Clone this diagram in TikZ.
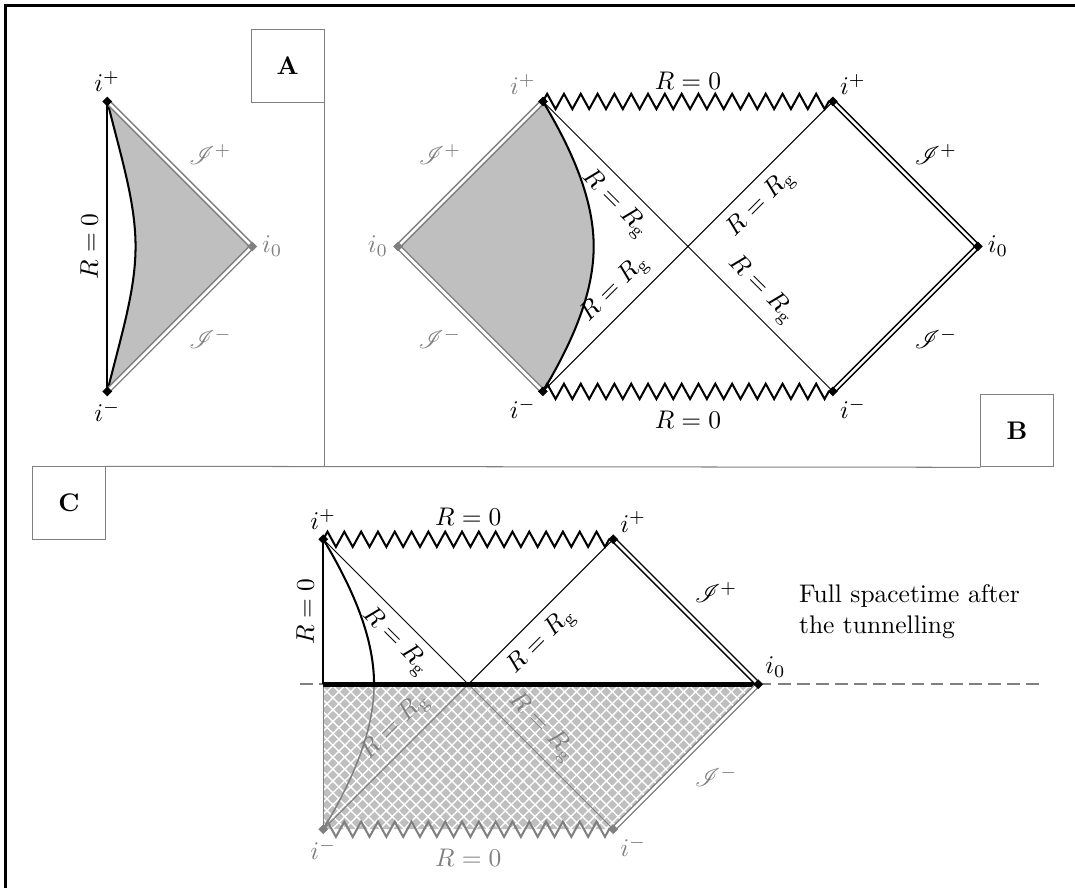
\documentclass[tikz,border=0pt]{standalone}
\usepackage{amsmath}
\usepackage{mathrsfs}
\usetikzlibrary{shapes.geometric,decorations.pathmorphing,patterns.meta,calc}

\begin{document}
\begin{tikzpicture}[
        vtx/.style={diamond, fill=black, inner sep=0pt, minimum size=4pt},
        gvtx/.style={vtx, fill=gray},
        scri/.style={double, double distance=1pt, line width=0.6pt},
        sing/.style={line width=0.8pt, decorate, decoration={zigzag, segment length=6.6pt, amplitude=3pt}},
        panel/.style={draw=gray, minimum size=1cm, inner sep=0pt, font=\bfseries},
        every label/.style={inner sep=1.5pt}]

        \useasboundingbox (0,0) rectangle (14.83,12.25);
        \draw[line width=1.2pt] (0.08,0) -- (0.08,12.18) -- (14.83,12.18);

        % Panels
        \node[panel] (boxA) at (3.97,11.34) {A};
        \node[panel] (boxB) at (14.03,6.31) {B};
        \node[panel] (boxC) at (0.95,5.31) {C};
        \draw[gray] (boxA.south east) -- (boxA.south east |- boxB.south west);
        \draw[gray] (boxC.north east) -- (boxB.south west);

        % Panel A
        \coordinate (ipA) at (1.48,10.85);
        \coordinate (imA) at (1.48,6.85);
        \coordinate (ioA) at (3.48,8.85);
        \fill[gray!50] (ipA) .. controls (1.68,10.05) and (1.87,9.45) .. (1.87,8.85) .. controls (1.87,8.25) and (1.68,7.65) .. (imA) -- (ioA) -- cycle;
        \draw[thick] (ipA) .. controls (1.68,10.05) and (1.87,9.45) .. (1.87,8.85) .. controls (1.87,8.25) and (1.68,7.65) .. (imA);
        \draw[thick] (imA) -- node[sloped, above] {$R=0$} (ipA);
        \draw[scri, gray] (ipA) -- node[above right, gray] {$\mathscr{I}^+$} (ioA) -- node[below right, gray] {$\mathscr{I}^-$} (imA);
        \node[vtx, label=above:$i^+$] (vipA) at (ipA) {};
        \node[vtx, label=below:$i^-$] (vimA) at (imA) {};
        \node[gvtx, label={[gray]right:$i_0$}] (vioA) at (ioA) {};

        % Panel B
        \coordinate (ioBl) at (5.49,8.85);
        \coordinate (ipBl) at (7.49,10.85);
        \coordinate (imBl) at (7.49,6.85);
        \coordinate (ipBr) at (11.49,10.85);
        \coordinate (imBr) at (11.49,6.85);
        \coordinate (ioBr) at (13.49,8.85);
        \fill[gray!50] (ipBl) .. controls (7.94,10.1) and (8.19,9.45) .. (8.19,8.85) .. controls (8.19,8.25) and (7.94,7.6) .. (imBl) -- (ioBl) -- cycle;
        \draw[thick] (ipBl) .. controls (7.94,10.1) and (8.19,9.45) .. (8.19,8.85) .. controls (8.19,8.25) and (7.94,7.6) .. (imBl);
        \draw[thin] (ipBl) -- node[pos=0.3, sloped, below] {$R=R_{\mathrm{g}}$} node[pos=0.7, sloped, above] {$R=R_{\mathrm{g}}$} (imBr);
        \draw[thin] (imBl) -- node[pos=0.3, sloped, above] {$R=R_{\mathrm{g}}$} node[pos=0.7, sloped, below] {$R=R_{\mathrm{g}}$} (ipBr);
        \draw[sing] (ipBl) -- node[above=1pt] {$R=0$} (ipBr);
        \draw[sing] (imBl) -- node[below=4pt] {$R=0$} (imBr);
        \draw[scri, gray] (ipBl) -- node[above left, gray] {$\mathscr{I}^+$} (ioBl) -- node[below left, gray] {$\mathscr{I}^-$} (imBl);
        \draw[scri] (ipBr) -- node[above right] {$\mathscr{I}^+$} (ioBr) -- node[below right] {$\mathscr{I}^-$} (imBr);
        \node[vtx, label={[gray]above left:$i^+$}] (vipBl) at (ipBl) {};
        \node[vtx, label=below left:$i^-$] (vimBl) at (imBl) {};
        \node[gvtx, label={[gray]left:$i_0$}] (vioBl) at (ioBl) {};
        \node[vtx, label=above right:$i^+$] (vipBr) at (ipBr) {};
        \node[vtx, label=below right:$i^-$] (vimBr) at (imBr) {};
        \node[vtx, label=right:$i_0$] (vioBr) at (ioBr) {};

        % Panel C
        \coordinate (ipCl) at (4.46,4.81);
        \coordinate (ipCr) at (8.46,4.81);
        \coordinate (ioC) at (10.46,2.81);
        \coordinate (imCl) at (4.46,0.81);
        \coordinate (imCr) at (8.46,0.81);
        \coordinate (mC) at (6.46,2.81);
        \coordinate (bC) at (4.46,2.81);
        \coordinate (tC) at (5.16,2.81);
        \coordinate (dl) at (4.14,2.81);
        \coordinate (dr) at (14.34,2.81);
        \path[fill=gray!50,
            postaction={pattern={Lines[angle=45, distance=3.3pt, line width=0.55pt]}, pattern color=white},
            postaction={pattern={Lines[angle=-45, distance=3.3pt, line width=0.55pt]}, pattern color=white}]
            (bC) -- (ioC) -- (imCr) -- (imCl) -- cycle;
        \draw[gray, dash pattern=on 5pt off 2.5pt, line width=0.9pt] (dl) -- (dr);
        \draw[thick] (bC) -- node[sloped, above] {$R=0$} (ipCl);
        \draw[semithick, gray] (bC) -- (imCl);
        \draw[thin] (ipCl) -- node[pos=0.6, sloped, below] {$R=R_{\mathrm{g}}$} (mC) -- node[pos=0.4, sloped, below] {$R=R_{\mathrm{g}}$} (ipCr);
        \draw[thin, gray] (imCl) -- node[pos=0.6, sloped, above] {$R=R_{\mathrm{g}}$} (mC) -- node[pos=0.4, sloped, above] {$R=R_{\mathrm{g}}$} (imCr);
        \draw[thick] (ipCl) .. controls (4.91,4.06) and (5.16,3.41) .. (tC);
        \draw[semithick, gray] (tC) .. controls (5.16,2.21) and (4.91,1.56) .. (imCl);
        \draw[line width=2pt] (bC) -- (ioC);
        \draw[sing] (ipCl) -- node[above=1.5pt] {$R=0$} (ipCr);
        \draw[sing, gray] (imCl) -- node[below=4pt, gray] {$R=0$} (imCr);
        \draw[scri] (ipCr) -- node[above right] {$\mathscr{I}^+$} (ioC);
        \draw[scri, gray] (imCr) -- node[below right, gray] {$\mathscr{I}^-$} (ioC);
        \node[vtx, label=above:$i^+$] (vipCl) at (ipCl) {};
        \node[vtx, label=above right:$i^+$] (vipCr) at (ipCr) {};
        \node[vtx, label=above right:$i_0$] (vioC) at (ioC) {};
        \node[gvtx, label={[gray]below:$i^-$}] (vimCl) at (imCl) {};
        \node[gvtx, label={[gray]below right:$i^-$}] (vimCr) at (imCr) {};
        \node[align=left, anchor=west] (note) at (10.9,3.81) {Full spacetime after\\the tunnelling};

\end{tikzpicture}
\end{document}
